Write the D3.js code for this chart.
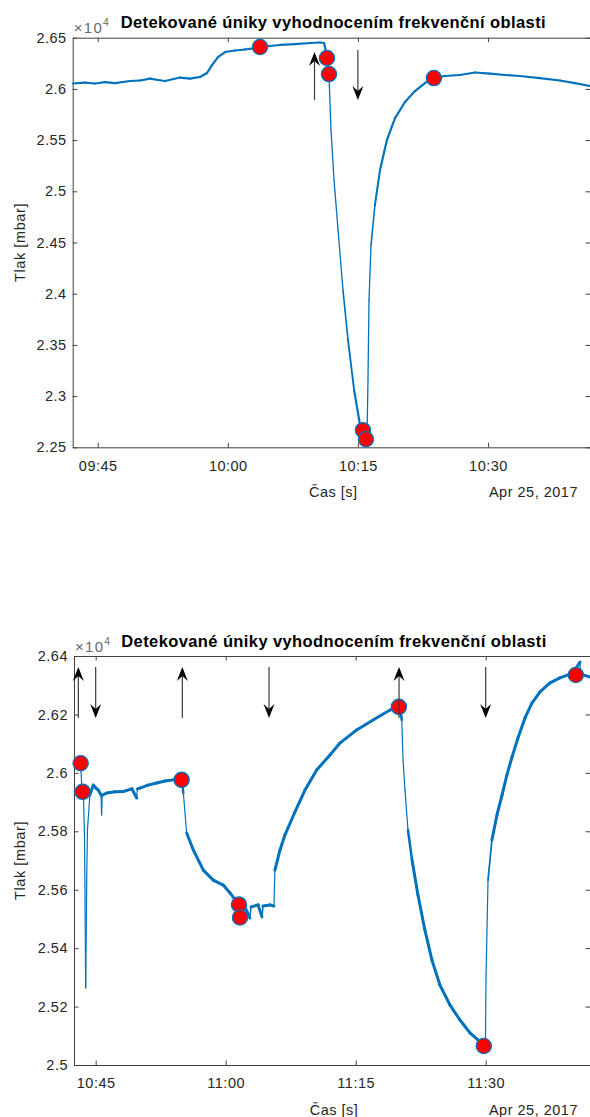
<!DOCTYPE html>
<html><head><meta charset="utf-8">
<script src="https://cdn.jsdelivr.net/npm/d3@7"></script>
<style>
html,body{margin:0;padding:0;background:#fff;}
svg{display:block;font-family:"Liberation Sans",Arial,Helvetica,sans-serif;}
</style></head>
<body>
<script>
// ---------- DATA ----------
const titleText = "Detekované úniky vyhodnocením frekvenční oblasti";
const xLabel = "Čas [s]";
const yLabel = "Tlak [mbar]";
const dateLabel = "Apr 25, 2017";

// Panel 1
const topDomain = ["09:42:07", "10:41:46"];
const topXTicks = ["09:45", "10:00", "10:15", "10:30"];
const topYTicks = [22500, 23000, 23500, 24000, 24500, 25000, 25500, 26000, 26500];
const topTimes = ["09:42:09","09:43:32","09:44:41","09:45:50","09:47:00","09:48:43","09:49:53","09:51:02","09:51:57","09:52:46","09:54:29","09:55:38","09:56:48","09:57:36","09:58:11","09:58:52","09:59:41","10:00:50","10:01:59","10:03:08","10:04:17","10:06:01","10:07:45","10:09:29","10:10:38","10:11:06","10:11:20","10:11:26","10:11:40","10:11:54","10:12:15","10:12:43","10:13:17","10:13:52","10:14:34","10:15:15","10:15:35","10:15:49","10:16:03","10:16:10","10:16:17","10:16:31","10:16:58","10:17:33","10:18:21","10:19:17","10:20:26","10:21:35","10:22:44","10:23:46","10:25:02","10:26:46","10:28:30","10:30:14","10:31:58","10:33:41","10:35:59","10:38:18","10:40:02","10:41:46"];
const topValues = [26053,26062,26053,26067,26057,26077,26082,26101,26087,26077,26111,26101,26116,26155,26233,26311,26360,26375,26385,26399,26414,26429,26438,26448,26453,26448,26360,26302,26145,25598,25110,24621,24035,23546,23058,22716,22648,22560,22589,23156,23937,24474,24865,25207,25501,25715,25872,25979,26057,26106,26126,26136,26160,26150,26136,26126,26106,26082,26057,26028];
const topMarkerTimes = ["10:03:43","10:11:26","10:11:40","10:15:35","10:15:56","10:23:46"];
const topMarkerValues = [26409,26302,26145,22667,22579,26106];
const topArrowTimes = ["10:10:00","10:15:00"];
const topArrowFrom = [25891, 26380];
const topArrowTo = [26360, 25891];

// Panel 2
const botDomain = ["10:42:30", "11:42:02"];
const botXTicks = ["10:45", "11:00", "11:15", "11:30"];
const botYTicks = [25000, 25200, 25400, 25600, 25800, 26000, 26200, 26400];
const botTimes = ["10:42:37","10:43:16","10:43:25","10:43:35","10:43:43","10:43:51","10:43:58","10:44:03","10:44:20","10:44:43","10:45:02","10:45:18","10:45:37","10:45:41","10:45:46","10:46:16","10:47:14","10:48:11","10:49:11","10:49:44","10:49:49","10:50:07","10:51:02","10:52:02","10:53:00","10:53:57","10:54:55","10:55:07","10:55:30","10:56:16","10:57:25","10:58:34","10:59:43","11:00:30","11:01:16","11:01:32","11:02:13","11:02:48","11:02:55","11:03:44","11:04:11","11:04:18","11:05:07","11:05:34","11:05:41","11:06:16","11:06:50","11:07:59","11:09:09","11:10:30","11:12:02","11:13:11","11:15:07","11:17:00","11:18:58","11:19:53","11:20:07","11:20:19","11:20:28","11:20:41","11:21:02","11:21:30","11:22:11","11:22:59","11:23:48","11:24:43","11:25:53","11:27:02","11:28:11","11:29:06","11:29:47","11:29:58","11:30:02","11:30:16","11:30:43","11:31:18","11:31:53","11:32:27","11:33:02","11:33:43","11:34:32","11:35:20","11:36:16","11:37:25","11:38:34","11:39:43","11:40:04","11:40:53","11:40:56","11:40:59","11:42:02"];
const botValues = [26034,26034,25941,25935,25770,25264,25633,25804,25924,25958,25948,25941,25924,25856,25924,25931,25935,25936,25945,25914,25945,25948,25958,25965,25972,25976,25979,25931,25794,25736,25667,25633,25616,25589,25559,25548,25541,25503,25541,25548,25507,25544,25548,25544,25667,25736,25787,25866,25941,26010,26061,26102,26147,26181,26215,26229,26225,26181,26044,25941,25804,25702,25582,25462,25359,25274,25205,25154,25110,25086,25065,25062,25291,25633,25770,25856,25924,25993,26054,26119,26188,26239,26277,26308,26325,26338,26342,26379,26318,26338,26328];
const botMarkerTimes = ["10:43:16","10:43:30","10:54:55","11:01:32","11:01:39","11:19:59","11:29:47","11:40:24"];
const botMarkerValues = [26033,25935,25976,25549,25505,26226,25065,26335];
const botArrowTimes = ["10:43:00","10:45:00","10:55:00","11:05:00","11:20:00","11:30:00"];
const botArrowFrom = [26188,26362,26188,26362,26188,26362];
const botArrowTo   = [26362,26188,26362,26188,26362,26188];

// ---------- DRAW ----------
const W = 590, H = 1117;
const parseT = d3.timeParse("%Y-%m-%d %H:%M:%S");
const T = s => parseT("2017-04-25 " + s);
const TM = s => parseT("2017-04-25 " + s + ":00");
const svg = d3.select("body").append("svg").attr("width", W).attr("height", H);

const FONT = 14.5;
const TEXTC = "#262626";
const AXC = "#404040";
const BLUE = "#0072BD";

function panel(cfg) {
  const {left, right, top, bottom} = cfg;
  const g = svg.append("g");
  const x = d3.scaleTime().domain(cfg.domain.map(T)).range([left, right]);
  const y = d3.scaleLinear().domain([cfg.yTicks[0], cfg.yTicks[cfg.yTicks.length-1]]).range([bottom, top]);
  const xt = cfg.xTicks.map(TM);

  const xb = g.append("g").attr("transform", `translate(0,${bottom})`)
    .call(d3.axisBottom(x).tickValues(xt).tickFormat(d3.timeFormat("%H:%M")).tickSizeInner(-4.5).tickSizeOuter(0).tickPadding(13));
  const xtp = g.append("g").attr("transform", `translate(0,${top})`)
    .call(d3.axisTop(x).tickValues(xt).tickFormat("").tickSizeInner(-4.5).tickSizeOuter(0));
  const yl = g.append("g").attr("transform", `translate(${left},0)`)
    .call(d3.axisLeft(y).tickValues(cfg.yTicks).tickFormat(v => String(+(v/1e4).toFixed(2))).tickSizeInner(-4.5).tickSizeOuter(0).tickPadding(6));
  const yr = g.append("g").attr("transform", `translate(${right},0)`)
    .call(d3.axisRight(y).tickValues(cfg.yTicks).tickFormat("").tickSizeInner(-4.5).tickSizeOuter(0));
  [xb, xtp, yl, yr].forEach(a => {
    a.select(".domain").attr("stroke", AXC).attr("stroke-width", 1);
    a.selectAll(".tick line").attr("stroke", AXC);
    a.selectAll("text").attr("fill", TEXTC).style("font-size", FONT + "px")
      .style("letter-spacing", "0.5px").style("font-family", '"Liberation Sans",Arial,sans-serif');
  });

  // line: segments drawn thinner where the signal changes steeply
  const pts = cfg.times.map((t, i) => [x(T(t)), y(cfg.values[i])]);
  const segs = d3.pairs(pts);
  g.append("g").selectAll("path").data(segs).join("path")
    .attr("d", d => d3.line()(d)).attr("fill", "none").attr("stroke", BLUE)
    .attr("stroke-linecap", "round")
    .attr("stroke-width", d => {
      const s = Math.abs(d[1][1] - d[0][1]) / Math.max(Math.abs(d[1][0] - d[0][0]), 0.01);
      const k = Math.max(0, Math.min(1, (s - 6) / 6));
      return cfg.lw + (cfg.thin - cfg.lw) * k;
    });

  g.selectAll("circle.m").data(cfg.mTimes).join("circle").attr("class", "m")
    .attr("cx", (t) => x(T(t))).attr("cy", (t, i) => y(cfg.mValues[i])).attr("r", 7.6)
    .attr("fill", "#ff0000").attr("stroke", BLUE).attr("stroke-width", 1.3);

  cfg.aTimes.forEach((t, i) => {
    const ax = x(T(t)), y0 = y(cfg.aFrom[i]), y1 = y(cfg.aTo[i]);
    const dir = y1 < y0 ? -1 : 1;
    g.append("line").attr("x1", ax).attr("x2", ax).attr("y1", y0).attr("y2", y1 - dir * 8)
      .attr("stroke", "#3a3a3a").attr("stroke-width", 1.2);
    const hl = 14, hw = 5.5, notch = 9;
    g.append("path").attr("d", `M${ax},${y1} L${ax - hw},${y1 - dir*hl} L${ax},${y1 - dir*notch} L${ax + hw},${y1 - dir*hl} Z`)
      .attr("fill", "#000");
  });

  g.append("text").attr("x", (left + right) / 2 + 2).attr("y", top - 9.5).attr("text-anchor", "middle")
    .style("font-size", "16.5px").style("font-weight", "bold").style("letter-spacing", "0.4px").attr("fill", "#000").text(titleText);
  const ex = g.append("text").attr("x", left + 1).attr("y", top - 4.5).attr("fill", "#6a6a6a").style("font-size", "15px").style("letter-spacing", "1.3px");
  ex.append("tspan").text("×10");
  ex.append("tspan").attr("dy", -7).style("font-size", "10.5px").style("letter-spacing", "0px").text("4");
  g.append("text").attr("x", (left + right) / 2 + 2).attr("y", bottom + 50).attr("text-anchor", "middle")
    .attr("fill", TEXTC).style("font-size", FONT + "px").style("letter-spacing", "0.5px").text(xLabel);
  g.append("text").attr("x", 578).attr("y", bottom + 50).attr("text-anchor", "end")
    .attr("fill", TEXTC).style("font-size", FONT + "px").style("letter-spacing", "0.5px").text(dateLabel);
  g.append("text").attr("transform", `translate(25,${(top + bottom) / 2}) rotate(-90)`).attr("text-anchor", "middle")
    .attr("fill", TEXTC).style("font-size", FONT + "px").style("letter-spacing", "0.6px").text(yLabel);
}

panel({left: 72.7, right: 590, top: 37.7, bottom: 447.3, domain: topDomain, xTicks: topXTicks, yTicks: topYTicks,
  times: topTimes, values: topValues, mTimes: topMarkerTimes, mValues: topMarkerValues,
  aTimes: topArrowTimes, aFrom: topArrowFrom, aTo: topArrowTo, lw: 2.2, thin: 1.3});
panel({left: 74, right: 590, top: 656, bottom: 1065, domain: botDomain, xTicks: botXTicks, yTicks: botYTicks,
  times: botTimes, values: botValues, mTimes: botMarkerTimes, mValues: botMarkerValues,
  aTimes: botArrowTimes, aFrom: botArrowFrom, aTo: botArrowTo, lw: 3, thin: 1.2});
</script>
</body></html>
